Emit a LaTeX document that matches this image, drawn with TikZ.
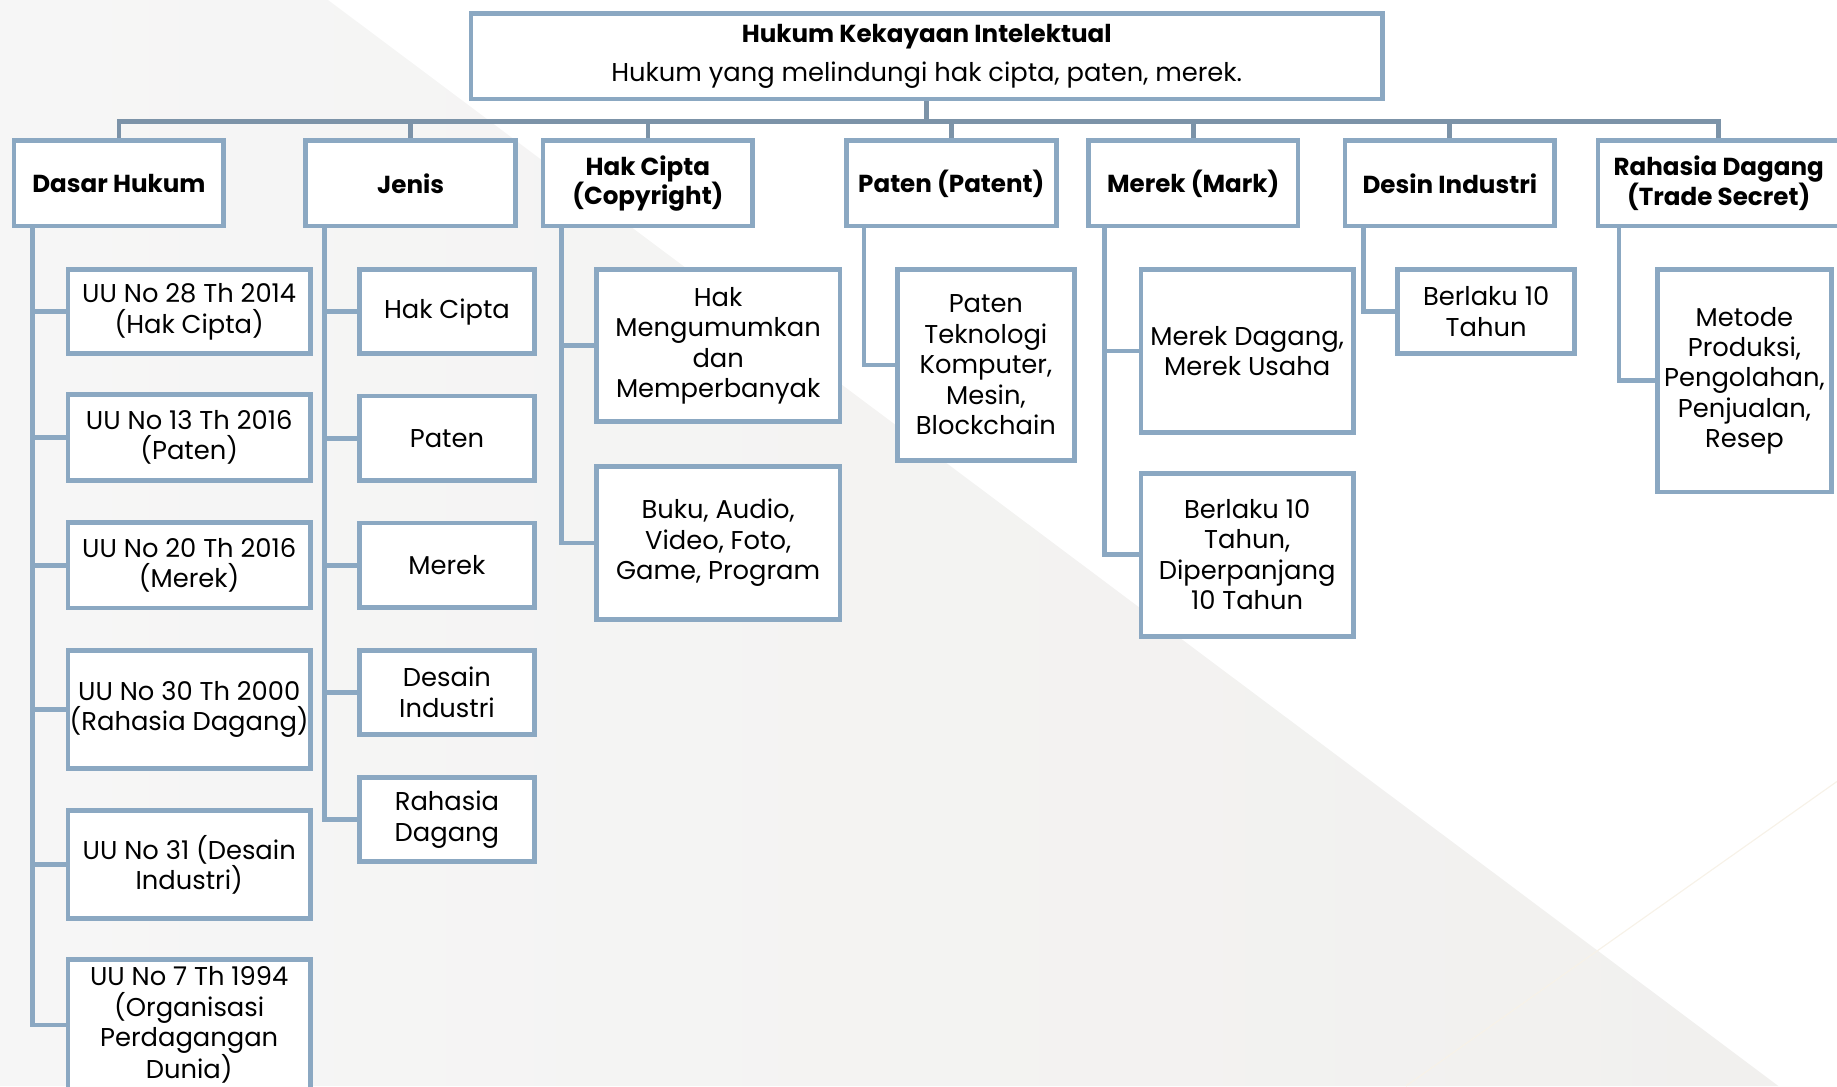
\documentclass[tikz,border=0pt]{standalone}
\usepackage{fontspec}
\setmainfont{Poppins}
\usepackage{tikz}

\definecolor{boxline}{RGB}{139,168,194}
\definecolor{busline}{RGB}{124,147,168}
\definecolor{bggrey}{RGB}{241,240,238}
\definecolor{bglight}{RGB}{246,246,246}
\definecolor{bgstreak}{RGB}{247,242,232}

\begin{document}
\begin{tikzpicture}[x=1pt,y=-1pt,
	kbox/.style={draw=boxline, line width=4pt, fill=white, align=center, inner sep=0pt, font=\fontsize{22}{26}\selectfont},
	khead/.style={kbox, minimum width=179pt, minimum height=73pt, font=\fontsize{21}{25}\selectfont\bfseries},
	bus/.style={draw=busline, line width=4pt},
	link/.style={draw=boxline, line width=4pt, line join=miter}]
	\useasboundingbox (0,0) rectangle (1568,927);
	% background
	\shade[left color=bglight, right color=bggrey] (0,0) -- (280,0) -- (1518,927) -- (0,927) -- cycle;
	\draw[bgstreak, line width=1pt] (1568,667) -- (1200,927);

	% top
	\node[kbox, minimum width=778pt, minimum height=73pt] (top) at (791,48)
		{{\fontsize{21}{25}\selectfont\bfseries Hukum Kekayaan Intelektual}\\[7pt]Hukum yang melindungi hak cipta, paten, merek.};

	% level 1
	\node[khead] (dasar) at (101.5,156.5) {Dasar Hukum};
	\node[khead] (jenis) at (350.5,156.5) {Jenis};
	\node[khead] (hakcipta) at (553,156.5) {Hak Cipta\\(Copyright)};
	\node[khead] (paten) at (812,156.5) {Paten (Patent)};
	\node[khead] (merek) at (1018.5,156.5) {Merek (Mark)};
	\node[khead] (desin) at (1237.5,156.5) {Desin Industri};
	\node[khead, minimum width=206pt] (rahasia) at (1467,156.5) {Rahasia Dagang\\(Trade Secret)};

	% bus
	\coordinate (bus) at ([yshift=-17pt]top.south);
	\draw[bus] (top.south) -- (bus);
	\draw[bus] (dasar.north) |- (bus) -| (rahasia.north);
	\draw[bus] (jenis.north) -- (jenis.north |- bus);
	\draw[bus] (hakcipta.north) -- (hakcipta.north |- bus);
	\draw[bus] (paten.north) -- (paten.north |- bus);
	\draw[bus] (merek.north) -- (merek.north |- bus);
	\draw[bus] (desin.north) -- (desin.north |- bus);

	% dasar hukum
	\node[kbox, minimum width=207pt, minimum height=72pt] (d1) at (161.5,266) {UU No 28 Th 2014\\(Hak Cipta)};
	\node[kbox, minimum width=207pt, minimum height=73pt] (d2) at (161.5,373.5) {UU No 13 Th 2016\\(Paten)};
	\node[kbox, minimum width=207pt, minimum height=73pt] (d3) at (161.5,482.5) {UU No 20 Th 2016\\(Merek)};
	\node[kbox, minimum width=207pt, minimum height=101pt] (d4) at (161.5,605.5) {UU No 30 Th 2000\\(Rahasia Dagang)};
	\node[kbox, minimum width=207pt, minimum height=92pt] (d5) at (161.5,738) {UU No 31 (Desain\\Industri)};
	\node[kbox, minimum width=207pt, minimum height=112pt] (d6) at (161.5,875) {UU No 7 Th 1994\\(Organisasi\\Perdagangan\\Dunia)};
	\foreach \c in {d1,d2,d3,d4,d5,d6}
		\draw[link] ([xshift=18pt]dasar.south west) |- (\c.west);

	% jenis
	\node[kbox, minimum width=149pt, minimum height=72pt] (j1) at (381.5,266) {Hak Cipta};
	\node[kbox, minimum width=149pt, minimum height=72pt] (j2) at (381.5,374) {Paten};
	\node[kbox, minimum width=149pt, minimum height=72pt] (j3) at (381.5,482.5) {Merek};
	\node[kbox, minimum width=149pt, minimum height=72pt] (j4) at (381.5,591) {Desain\\Industri};
	\node[kbox, minimum width=149pt, minimum height=72pt] (j5) at (381.5,699.5) {Rahasia\\Dagang};
	\foreach \c in {j1,j2,j3,j4,j5}
		\draw[link] ([xshift=18pt]jenis.south west) |- (\c.west);

	% hak cipta
	\node[kbox, minimum width=208pt, minimum height=130pt] (h1) at (613,295) {Hak\\Mengumumkan\\dan\\Memperbanyak};
	\node[kbox, minimum width=208pt, minimum height=131pt] (h2) at (613,463.5) {Buku, Audio,\\Video, Foto,\\Game, Program};
	\foreach \c in {h1,h2}
		\draw[link] ([xshift=18pt]hakcipta.south west) |- (\c.west);

	% paten
	\node[kbox, minimum width=151pt, minimum height=163pt] (p1) at (841.5,311.5) {Paten\\Teknologi\\Komputer,\\Mesin,\\Blockchain};
	\draw[link] ([xshift=17pt]paten.south west) |- (p1.west);

	% merek
	\node[kbox, minimum width=181pt, minimum height=139pt] (m1) at (1064.5,299.5) {Merek Dagang,\\Merek Usaha};
	\node[kbox, minimum width=181pt, minimum height=139pt] (m2) at (1064.5,473.5) {Berlaku 10\\Tahun,\\Diperpanjang\\10 Tahun};
	\foreach \c in {m1,m2}
		\draw[link] ([xshift=16pt]merek.south west) |- (\c.west);

	% desin industri
	\node[kbox, minimum width=151pt, minimum height=72pt] (s1) at (1268.5,266) {Berlaku 10\\Tahun};
	\draw[link] ([xshift=18pt]desin.south west) |- (s1.west);

	% rahasia dagang
	\node[kbox, minimum width=148pt, minimum height=190pt] (r1) at (1489,325) {Metode\\Produksi,\\Pengolahan,\\Penjualan,\\Resep};
	\draw[link] ([xshift=20pt]rahasia.south west) |- (r1.west);
\end{tikzpicture}
\end{document}
